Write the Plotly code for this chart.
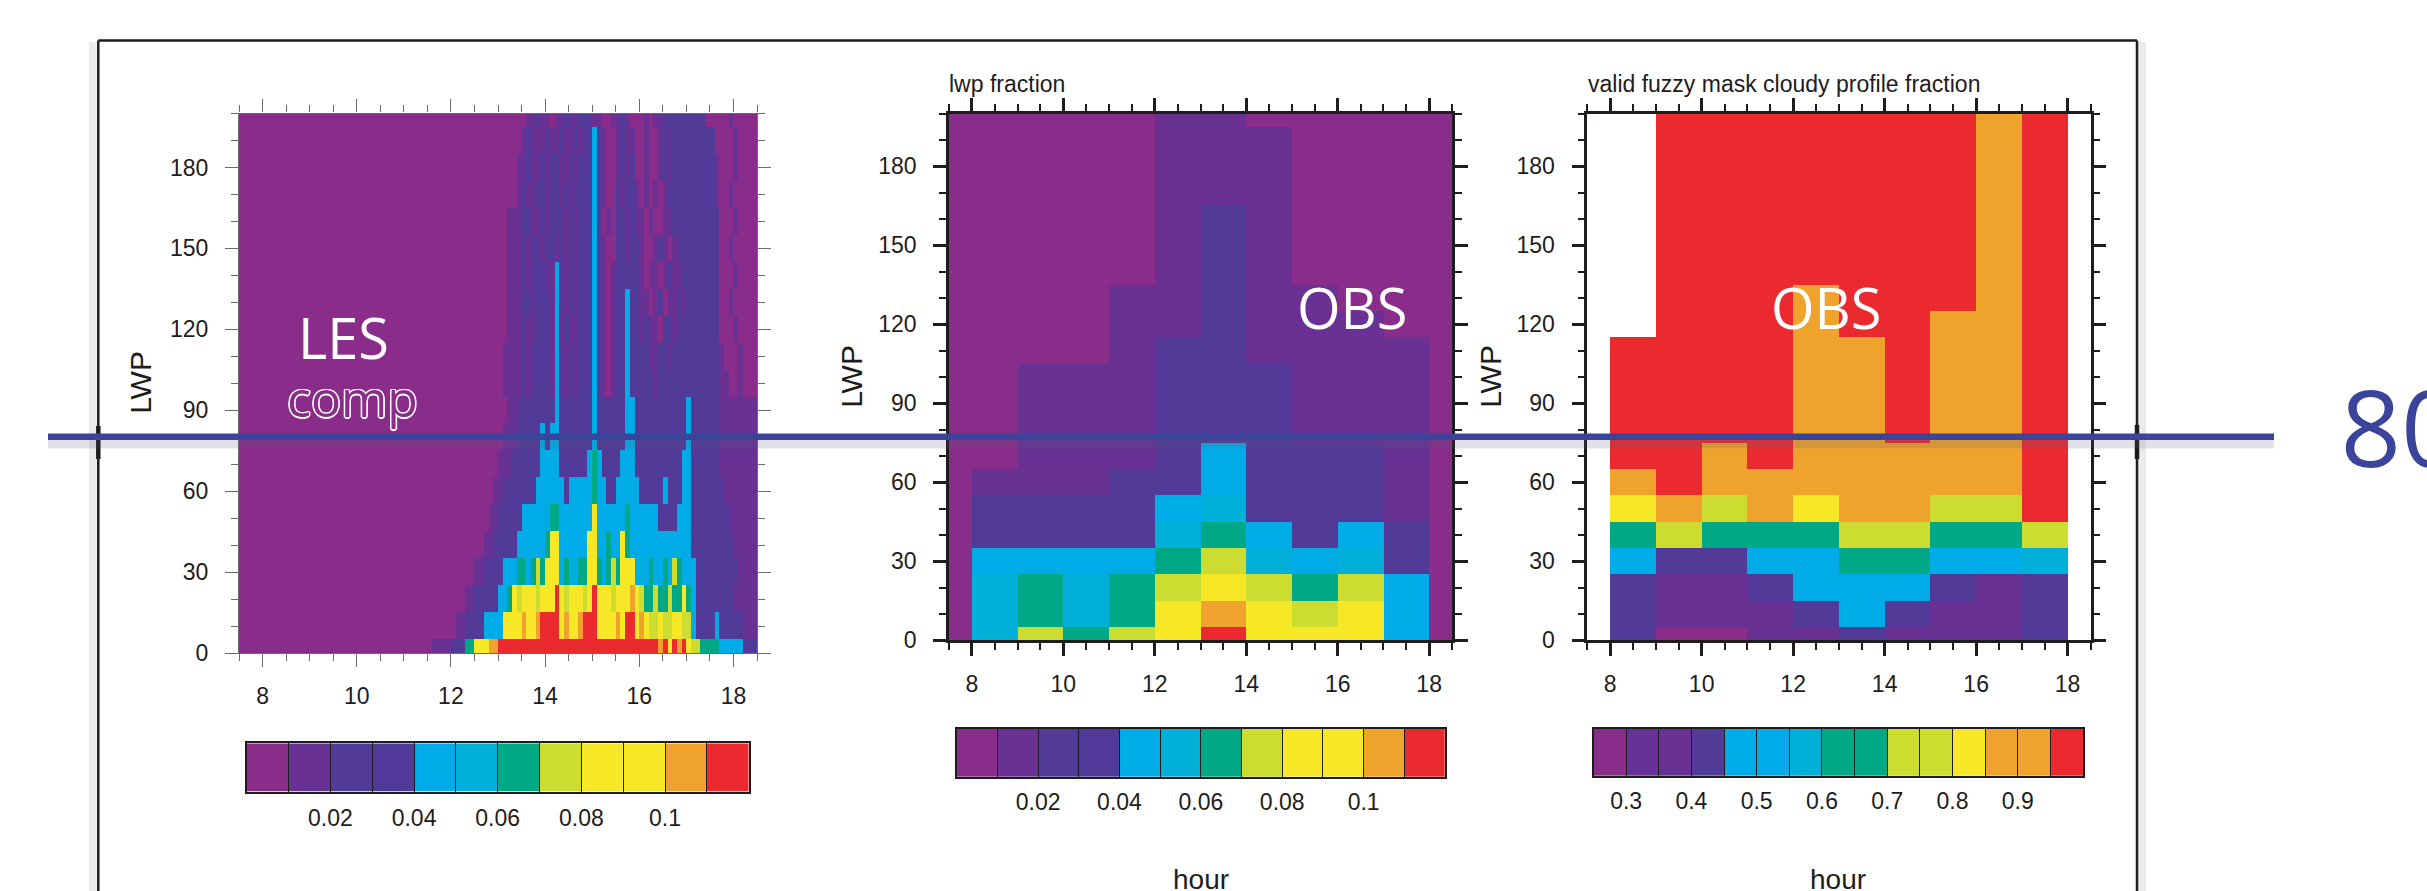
import plotly.graph_objects as go

W = 2427          # page width (px)
H_REF = 891       # height of the reference picture (px); all positions below are in these units
H = 906           # drawn height: the photographed page is squeezed from 906 to 891 px tall

# ---------------- data ----------------
# colour levels (NCL-style filled levels)
FRAC_LEVELS = [0.01, 0.02, 0.03, 0.04, 0.05, 0.06, 0.07, 0.08, 0.09, 0.10, 0.11]
FRAC_LABELS = ["", "0.02", "", "0.04", "", "0.06", "", "0.08", "", "0.1", ""]
FRAC_BAR = [0.005, 0.015, 0.025, 0.035, 0.045, 0.055, 0.065, 0.075, 0.085, 0.095, 0.105, 0.115]
FRAC_COLORS = ["#8A2D8A", "#6A3194", "#523A98", "#51399A", "#00ACE8", "#00B0D8",
               "#00A885", "#CDDC30", "#F7E827", "#F7E827", "#F0A32C", "#EA2A2F"]

MASK_LEVELS = [0.30, 0.35, 0.40, 0.45, 0.50, 0.55, 0.60, 0.65, 0.70, 0.75, 0.80, 0.85, 0.90, 0.95]
MASK_LABELS = ["0.3", "", "0.4", "", "0.5", "", "0.6", "", "0.7", "", "0.8", "", "0.9", ""]
MASK_BAR = [0.275, 0.325, 0.375, 0.425, 0.475, 0.525, 0.575, 0.625, 0.675, 0.725, 0.775, 0.825, 0.875, 0.925, 0.975]
MASK_COLORS = ["#8A2D8A", "#66329A", "#6A3194", "#523A98", "#00ACE8", "#00ACE8", "#00B0D8",
               "#00A885", "#00A885", "#CDDC30", "#CDDC30", "#F7E827", "#F0A32C", "#F0A32C", "#EA2A2F"]

LWP_BINS = [0, 10, 20, 30, 40, 50, 60, 70, 80, 90, 100, 110, 120, 130, 140, 150, 160, 170, 180, 190, 200]
OBS_HOURS = [7.5, 8.5, 9.5, 10.5, 11.5, 12.5, 13.5, 14.5, 15.5, 16.5, 17.5, 18.5]
LES_HOURS = [round(7.55 + 0.1 * i, 2) for i in range(110)]

THRESHOLD_LABEL = "80"

# OBS lwp fraction (rows = LWP bins from 0 upward, columns = OBS_HOURS)
OBS_LWP_FRACTION = [
    [0.005, 0.055, 0.075, 0.065, 0.075, 0.085, 0.115, 0.085, 0.085, 0.085, 0.045, 0.005],
    [0.005, 0.055, 0.065, 0.055, 0.065, 0.085, 0.105, 0.085, 0.075, 0.085, 0.045, 0.005],
    [0.005, 0.055, 0.065, 0.055, 0.065, 0.075, 0.085, 0.075, 0.065, 0.075, 0.045, 0.005],
    [0.005, 0.045, 0.045, 0.045, 0.045, 0.065, 0.075, 0.055, 0.045, 0.055, 0.025, 0.005],
    [0.005, 0.025, 0.025, 0.025, 0.025, 0.055, 0.065, 0.045, 0.025, 0.045, 0.025, 0.005],
    [0.005, 0.025, 0.025, 0.025, 0.025, 0.045, 0.055, 0.025, 0.025, 0.025, 0.015, 0.005],
    [0.005, 0.015, 0.015, 0.015, 0.025, 0.025, 0.045, 0.025, 0.025, 0.025, 0.015, 0.005],
    [0.005, 0.005, 0.015, 0.015, 0.015, 0.025, 0.045, 0.025, 0.025, 0.025, 0.015, 0.005],
    [0.005, 0.005, 0.015, 0.015, 0.015, 0.025, 0.025, 0.025, 0.015, 0.015, 0.015, 0.005],
    [0.005, 0.005, 0.015, 0.015, 0.015, 0.025, 0.025, 0.025, 0.015, 0.015, 0.015, 0.005],
    [0.005, 0.005, 0.015, 0.015, 0.015, 0.025, 0.025, 0.025, 0.015, 0.015, 0.015, 0.005],
    [0.005, 0.005, 0.005, 0.005, 0.015, 0.025, 0.025, 0.015, 0.015, 0.015, 0.015, 0.005],
    [0.005, 0.005, 0.005, 0.005, 0.015, 0.015, 0.025, 0.015, 0.015, 0.015, 0.005, 0.005],
    [0.005, 0.005, 0.005, 0.005, 0.015, 0.015, 0.025, 0.015, 0.015, 0.005, 0.005, 0.005],
    [0.005, 0.005, 0.005, 0.005, 0.005, 0.015, 0.025, 0.015, 0.005, 0.005, 0.005, 0.005],
    [0.005, 0.005, 0.005, 0.005, 0.005, 0.015, 0.025, 0.015, 0.005, 0.005, 0.005, 0.005],
    [0.005, 0.005, 0.005, 0.005, 0.005, 0.015, 0.025, 0.015, 0.005, 0.005, 0.005, 0.005],
    [0.005, 0.005, 0.005, 0.005, 0.005, 0.015, 0.015, 0.015, 0.005, 0.005, 0.005, 0.005],
    [0.005, 0.005, 0.005, 0.005, 0.005, 0.015, 0.015, 0.015, 0.005, 0.005, 0.005, 0.005],
    [0.005, 0.005, 0.005, 0.005, 0.005, 0.015, 0.015, 0.015, 0.005, 0.005, 0.005, 0.005],
    [0.005, 0.005, 0.005, 0.005, 0.005, 0.015, 0.015, 0.005, 0.005, 0.005, 0.005, 0.005],
]

# OBS valid fuzzy mask cloudy profile fraction (None = no data)
N = None
OBS_MASK_FRACTION = [
    [N, 0.42, 0.28, 0.28, 0.37, 0.37, 0.42, 0.37, 0.37, 0.37, 0.42, N],
    [N, 0.42, 0.37, 0.37, 0.37, 0.42, 0.50, 0.42, 0.37, 0.37, 0.42, N],
    [N, 0.42, 0.37, 0.37, 0.42, 0.50, 0.50, 0.50, 0.42, 0.37, 0.42, N],
    [N, 0.50, 0.42, 0.42, 0.50, 0.50, 0.64, 0.64, 0.50, 0.50, 0.57, N],
    [N, 0.64, 0.74, 0.64, 0.64, 0.64, 0.74, 0.74, 0.64, 0.64, 0.74, N],
    [N, 0.82, 0.89, 0.74, 0.89, 0.82, 0.89, 0.89, 0.74, 0.74, 0.97, N],
    [N, 0.89, 0.97, 0.89, 0.89, 0.89, 0.89, 0.89, 0.89, 0.89, 0.97, N],
    [N, 0.97, 0.97, 0.89, 0.97, 0.89, 0.89, 0.89, 0.89, 0.89, 0.97, N],
    [N, 0.97, 0.97, 0.97, 0.97, 0.89, 0.89, 0.97, 0.89, 0.89, 0.97, N],
    [N, 0.97, 0.97, 0.97, 0.97, 0.89, 0.89, 0.97, 0.89, 0.89, 0.97, N],
    [N, 0.97, 0.97, 0.97, 0.97, 0.89, 0.89, 0.97, 0.89, 0.89, 0.97, N],
    [N, 0.97, 0.97, 0.97, 0.97, 0.89, 0.89, 0.97, 0.89, 0.89, 0.97, N],
    [N, N, 0.97, 0.97, 0.97, 0.89, 0.97, 0.97, 0.89, 0.89, 0.97, N],
    [N, N, 0.97, 0.97, 0.97, 0.89, 0.97, 0.97, 0.97, 0.89, 0.97, N],
    [N, N, 0.97, 0.97, 0.97, 0.97, 0.97, 0.97, 0.97, 0.89, 0.97, N],
    [N, N, 0.97, 0.97, 0.97, 0.97, 0.97, 0.97, 0.97, 0.89, 0.97, N],
    [N, N, 0.97, 0.97, 0.97, 0.97, 0.97, 0.97, 0.97, 0.89, 0.97, N],
    [N, N, 0.97, 0.97, 0.97, 0.97, 0.97, 0.97, 0.97, 0.89, 0.97, N],
    [N, N, 0.97, 0.97, 0.97, 0.97, 0.97, 0.97, 0.97, 0.89, 0.97, N],
    [N, N, 0.97, 0.97, 0.97, 0.97, 0.97, 0.97, 0.97, 0.89, 0.97, N],
    [N, N, 0.97, 0.97, 0.97, 0.97, 0.97, 0.97, 0.97, 0.89, 0.97, N],
]

# LES composite lwp fraction, per LWP row: run-length (fraction class, number of 0.1-h columns)
LES_CLASS_VALUE = {"0": 0.005, "1": 0.015, "2": 0.025, "3": 0.035, "4": 0.045, "5": 0.055,
                   "6": 0.065, "7": 0.075, "8": 0.085, "9": 0.095, "a": 0.105, "b": 0.115}
LES_ROWS = [
    [("0",41),("1",4),("2",3),("6",2),("8",3),("a",2),("b",34),("a",1),("b",1),("9",1),("b",1),("a",1),("b",1),("8",1),("7",2),("6",4),("4",5),("2",3)],
    [("0",46),("1",2),("2",4),("4",4),("8",1),("9",1),("8",2),("a",1),("9",1),("8",1),("a",1),("b",4),("9",1),("a",1),("8",1),("9",1),("a",1),("b",3),("8",2),("9",1),("8",1),("a",1),("8",1),("b",2),("8",1),("a",1),("8",1),("7",2),("8",1),("7",2),("8",2),("7",2),("4",1),("2",4),("4",1),("2",5),("1",3)],
    [("0",48),("1",2),("2",5),("4",2),("6",1),("8",1),("7",1),("8",2),("9",1),("7",1),("8",3),("b",1),("8",1),("7",1),("8",1),("9",1),("8",1),("7",1),("8",1),("b",1),("8",2),("9",1),("7",1),("8",2),("9",1),("a",1),("8",1),("7",1),("6",1),("6",1),("7",1),("6",2),("7",1),("6",2),("8",1),("6",1),("4",1),("2",8),("1",5)],
    [("0",50),("1",2),("2",4),("4",3),("6",2),("4",1),("6",1),("7",1),("6",1),("8",1),("9",1),("8",1),("4",1),("6",1),("5",1),("4",1),("6",2),("8",2),("6",1),("4",1),("6",1),("7",1),("6",1),("8",1),("9",1),("8",1),("4",1),("5",1),("4",1),("6",1),("4",2),("6",1),("4",1),("7",1),("6",1),("4",2),("4",1),("2",9),("1",4)],
    [("0",52),("1",2),("2",5),("4",6),("6",1),("8",2),("4",6),("9",1),("8",1),("4",2),("6",1),("4",2),("8",1),("6",1),("4",13),("2",9),("1",5)],
    [("0",53),("1",2),("2",5),("4",6),("6",2),("4",7),("8",1),("4",6),("6",1),("4",6),("2",4),("4",3),("2",8),("1",6)],
    [("0",54),("1",2),("2",7),("4",6),("2",1),("4",5),("6",1),("4",2),("2",2),("4",5),("2",5),("4",1),("2",3),("4",2),("2",7),("1",7)],
    [("0",55),("1",3),("2",6),("4",4),("2",6),("4",1),("6",1),("4",1),("2",4),("4",3),("2",10),("4",2),("2",6),("1",8)],
    [("0",56),("1",3),("2",5),("4",1),("2",1),("4",2),("2",7),("4",1),("2",6),("4",2),("2",11),("4",1),("2",6),("1",8)],
    [("0",57),("1",2),("2",8),("4",1),("2",7),("4",1),("2",6),("4",2),("2",11),("4",1),("2",6),("1",8)],
    [("0",56),("1",4),("2",1),("1",1),("2",4),("1",1),("4",1),("2",1),("1",1),("2",1),("1",1),("2",3),("4",1),("2",1),("1",1),("0",1),("1",1),("2",2),("4",1),("2",2),("2",3),("1",1),("2",6),("2",7),("1",2),("0",2),("1",1),("0",3)],
    [("0",56),("1",4),("2",1),("1",1),("2",4),("1",1),("4",1),("2",1),("1",1),("2",1),("1",1),("2",3),("4",1),("2",1),("1",1),("0",1),("1",1),("2",2),("4",1),("2",4),("1",2),("2",2),("1",1),("2",3),("2",7),("1",1),("0",3),("1",1),("0",3)],
    [("0",57),("1",3),("2",1),("1",2),("2",3),("1",1),("4",1),("1",1),("2",1),("1",2),("2",3),("4",1),("2",1),("1",1),("0",1),("1",1),("2",2),("4",1),("2",2),("1",1),("2",1),("1",2),("0",1),("2",2),("1",1),("2",2),("2",7),("0",3),("1",1),("0",4)],
    [("0",57),("1",3),("2",2),("1",1),("2",3),("1",1),("4",1),("2",1),("1",1),("2",1),("1",1),("2",3),("4",1),("2",1),("1",1),("0",1),("1",1),("2",2),("4",1),("2",2),("1",2),("0",1),("1",1),("2",1),("0",1),("1",2),("2",1),("1",1),("2",7),("0",2),("1",1),("0",5)],
    [("0",57),("1",3),("2",1),("1",1),("2",3),("1",2),("4",1),("2",1),("1",1),("2",1),("1",1),("2",3),("4",1),("2",1),("1",1),("0",1),("1",1),("2",5),("1",1),("0",1),("1",2),("0",1),("1",1),("2",1),("1",2),("2",8),("0",3),("1",1),("0",4)],
    [("0",57),("1",3),("2",1),("1",1),("2",2),("1",1),("2",2),("1",1),("2",1),("1",1),("2",1),("1",1),("2",3),("4",1),("2",1),("1",1),("0",2),("2",2),("1",1),("2",2),("1",1),("0",2),("1",1),("2",1),("1",1),("0",1),("1",1),("2",9),("0",2),("1",1),("0",5)],
    [("0",57),("1",3),("2",2),("1",2),("2",1),("1",1),("2",3),("1",1),("2",1),("1",1),("2",3),("4",1),("2",1),("0",1),("1",1),("0",1),("2",2),("1",1),("2",1),("1",2),("0",1),("1",1),("0",2),("1",2),("2",10),("0",3),("1",1),("0",4)],
    [("0",59),("1",1),("2",1),("1",2),("2",2),("1",1),("2",2),("1",1),("2",1),("1",1),("2",4),("4",1),("2",1),("1",1),("0",2),("2",1),("1",1),("2",2),("1",1),("0",1),("1",1),("0",1),("1",1),("0",1),("1",1),("2",10),("1",1),("0",2),("1",1),("0",5)],
    [("0",59),("1",2),("2",1),("1",2),("2",1),("1",1),("2",2),("1",2),("2",1),("1",1),("2",3),("4",1),("2",1),("1",1),("0",2),("1",1),("2",1),("1",1),("2",1),("0",2),("1",1),("0",2),("1",1),("2",1),("1",1),("2",9),("1",1),("0",3),("1",1),("0",4)],
    [("0",60),("1",1),("2",1),("1",3),("2",1),("1",2),("2",1),("1",2),("2",1),("1",1),("2",2),("4",1),("2",1),("1",1),("0",2),("1",1),("2",1),("1",2),("0",2),("1",1),("0",2),("1",1),("2",1),("1",1),("2",9),("0",4),("1",1),("0",4)],
    [("0",61),("1",2),("2",1),("1",2),("0",1),("1",2),("2",1),("1",2),("2",3),("1",2),("0",2),("1",2),("2",1),("1",1),("0",3),("1",1),("0",1),("1",2),("2",9),("0",5),("1",1),("0",5)],
]

LES_FRACTION = []
for row in LES_ROWS:
    vals = []
    for code, n in row:
        vals.extend([LES_CLASS_VALUE[code]] * n)
    vals = (vals + [vals[-1]] * len(LES_HOURS))[:len(LES_HOURS)]
    LES_FRACTION.append(vals)

# ---------------- helpers ----------------
def stepped(colors):
    n = len(colors)
    scale = []
    for i, c in enumerate(colors):
        scale.append([i / n, c])
        scale.append([(i + 1) / n, c])
    return scale

def fx(px):
    return px / W

def fy(py):
    return 1 - py / H_REF

TXT = "#1E1C1D"
FONT = "Liberation Sans, Arial, Helvetica, sans-serif"
SLIDE_FONT = "Open Sans, Noto Sans, sans-serif"

def axis_style(kind, dark=True, xstand=8):
    col = TXT if dark else "#6B6B6B"
    lw = 2.6 if dark else 1.2
    d = dict(showline=True, linecolor=col, linewidth=lw, mirror="ticks",
             ticks="outside", ticklen=13, tickwidth=lw, tickcolor=col,
             showgrid=False, zeroline=False, fixedrange=True,
             tickfont=dict(family=FONT, size=23, color=TXT))
    if kind == "x":
        d.update(range=[7.5, 18.5], tickmode="linear", tick0=8, dtick=2, ticklabelstandoff=xstand,
                 minor=dict(ticks="outside", ticklen=7, tickwidth=lw * 0.8, tickcolor=col,
                            tick0=7.5, dtick=0.5, showgrid=False))
    else:
        d.update(range=[0, 200], tickmode="array", tickvals=[0, 30, 60, 90, 120, 150, 180],
                 ticklabelstandoff=12,
                 minor=dict(ticks="outside", ticklen=7, tickwidth=lw * 0.8, tickcolor=col,
                            tick0=0, dtick=10, showgrid=False))
    return d

# ---------------- figure ----------------
fig = go.Figure()

fig.add_trace(go.Heatmap(x=LES_HOURS, y=LWP_BINS, z=LES_FRACTION, coloraxis="coloraxis",
                         xaxis="x", yaxis="y", hoverinfo="skip"))
fig.add_trace(go.Heatmap(x=OBS_HOURS, y=LWP_BINS, z=OBS_LWP_FRACTION, coloraxis="coloraxis",
                         xaxis="x2", yaxis="y2", hoverinfo="skip"))
fig.add_trace(go.Heatmap(x=OBS_HOURS, y=LWP_BINS, z=OBS_MASK_FRACTION, coloraxis="coloraxis2",
                         xaxis="x3", yaxis="y3", hoverinfo="skip"))
# label bars (one box per colour class)
fig.add_trace(go.Heatmap(x=FRAC_BAR, y=[0.5], z=[FRAC_BAR], coloraxis="coloraxis",
                         xaxis="x4", yaxis="y4", hoverinfo="skip"))
fig.add_trace(go.Heatmap(x=FRAC_BAR, y=[0.5], z=[FRAC_BAR], coloraxis="coloraxis",
                         xaxis="x5", yaxis="y5", hoverinfo="skip"))
fig.add_trace(go.Heatmap(x=MASK_BAR, y=[0.5], z=[MASK_BAR], coloraxis="coloraxis2",
                         xaxis="x6", yaxis="y6", hoverinfo="skip"))

P1 = dict(x0=239, x1=757, y0=113.3, y1=651.6)
P2 = dict(x0=949, x1=1452, y0=113.3, y1=639)
P3 = dict(x0=1587.3, x1=2090.5, y0=113.3, y1=639)

lay = dict(width=W, height=H, margin=dict(l=0, r=0, t=0, b=0, pad=0), autosize=False,
           paper_bgcolor="white", plot_bgcolor="white", showlegend=False)
for idx, P, dark, xs in [("", P1, False, 9), ("2", P2, True, 8), ("3", P3, True, 8)]:
    xa = axis_style("x", dark, xs)
    xa.update(domain=[fx(P["x0"]), fx(P["x1"])], anchor="y" + idx)
    ya = axis_style("y", dark)
    ya.update(domain=[fy(P["y1"]), fy(P["y0"])], anchor="x" + idx)
    lay["xaxis" + idx] = xa
    lay["yaxis" + idx] = ya

CB = [
    ("4", dict(x0=246.7, x1=748.7, y0=741.7, y1=790), [0.0, 0.12], FRAC_LEVELS, FRAC_LABELS, 5),
    ("5", dict(x0=956.7, x1=1445, y0=727.3, y1=775), [0.0, 0.12], FRAC_LEVELS, FRAC_LABELS, 4),
    ("6", dict(x0=1593.5, x1=2083, y0=727.3, y1=774), [0.25, 1.0], MASK_LEVELS, MASK_LABELS, 4),
]
for idx, G, rng, levels, labels, stand in CB:
    lay["xaxis" + idx] = dict(domain=[fx(G["x0"]), fx(G["x1"])], anchor="y" + idx, range=rng,
                              tickmode="array", tickvals=levels, ticktext=labels,
                              ticks="inside", ticklen=(G["y1"] - G["y0"]) * H / H_REF,
                              tickwidth=1.3, tickcolor=TXT,
                              showline=True, linecolor=TXT, linewidth=1.5, mirror=True,
                              showgrid=False, zeroline=False, fixedrange=True,
                              ticklabelstandoff=stand,
                              tickfont=dict(family=FONT, size=23, color=TXT))
    lay["yaxis" + idx] = dict(domain=[fy(G["y1"]), fy(G["y0"])], anchor="x" + idx, range=[0, 1],
                              showline=True, linecolor=TXT, linewidth=1.5, mirror=True,
                              ticks="", showticklabels=False, showgrid=False, zeroline=False,
                              fixedrange=True)

# an invisible strip at the right edge holding the clipped threshold label
lay["xaxis7"] = dict(domain=[fx(2280), 1.0], anchor="y7", range=[2280, W], visible=False, fixedrange=True)
lay["yaxis7"] = dict(domain=[fy(560), fy(320)], anchor="x7", range=[560, 320], visible=False, fixedrange=True)

lay["coloraxis"] = dict(colorscale=stepped(FRAC_COLORS), cmin=0.0, cmax=0.12, showscale=False)
lay["coloraxis2"] = dict(colorscale=stepped(MASK_COLORS), cmin=0.25, cmax=1.0, showscale=False)
fig.update_layout(**lay)

fig.add_trace(go.Scatter(x=[2401], y=[440], mode="text", text=[THRESHOLD_LABEL],
                         textposition="middle center", cliponaxis=True,
                         textfont=dict(family=SLIDE_FONT, size=106, color="#3B449B"),
                         xaxis="x7", yaxis="y7", hoverinfo="skip"))

# ---------------- text ----------------
def ann(text, x, y, size, color=TXT, family=FONT, xanchor="center", yanchor="middle", angle=0, **kw):
    fig.add_annotation(text=text, x=fx(x), y=fy(y), xref="paper", yref="paper",
                       xanchor=xanchor, yanchor=yanchor, textangle=angle, showarrow=False,
                       font=dict(family=family, size=size, color=color, **kw))

ann("LWP", 141, 382, 30, angle=-90)
ann("LWP", 852, 376, 30, angle=-90)
ann("LWP", 1491, 376, 30, angle=-90)
ann("hour", 1200.5, 878, 28)
ann("hour", 1838, 878, 28)
ann("lwp fraction", 947, 84, 23, xanchor="left")
ann("valid fuzzy mask cloudy profile fraction", 1586, 84, 23, xanchor="left")

ann("LES", 343, 336, 56, color="white", family=SLIDE_FONT)
ann("comp", 352, 397, 50, color="#8A2D8A", family=SLIDE_FONT,
    shadow="1.5px 0 0 white, -1.5px 0 0 white, 0 1.5px 0 white, 0 -1.5px 0 white, "
           "1px 1px 0 white, -1px -1px 0 white, 1px -1px 0 white, -1px 1px 0 white")
ann("OBS", 1352, 306, 56, color="white", family=SLIDE_FONT)
ann("OBS", 1826, 306, 56, color="white", family=SLIDE_FONT)

# ---------------- slide decorations ----------------
def seg(x0, y0, x1, y1, color, width, layer="above"):
    fig.add_shape(type="line", xref="paper", yref="paper", x0=fx(x0), y0=fy(y0),
                  x1=fx(x1), y1=fy(y1), line=dict(color=color, width=width), layer=layer)

# frame shadow
seg(93, 42, 93, H_REF, "rgba(60,60,90,0.10)", 8)
seg(2142, 42, 2142, H_REF, "rgba(60,60,90,0.10)", 8)
# frame
seg(98.3, 40.3, 2137, 40.3, TXT, 2.5)
seg(98.3, 40.3, 98.3, H_REF, TXT, 2.5)
seg(2137, 40.3, 2137, H_REF, TXT, 2.5)
seg(98.3, 425, 98.3, 458, TXT, 4.5)
seg(2137, 424, 2137, 458, TXT, 4.5)
# threshold line with soft shadow
seg(48, 443, 2274, 443, "rgba(90,95,130,0.18)", 9)
seg(48, 435.7, 2274, 435.7, "#3B449B", 6.5)

fig.write_html("out.html")
